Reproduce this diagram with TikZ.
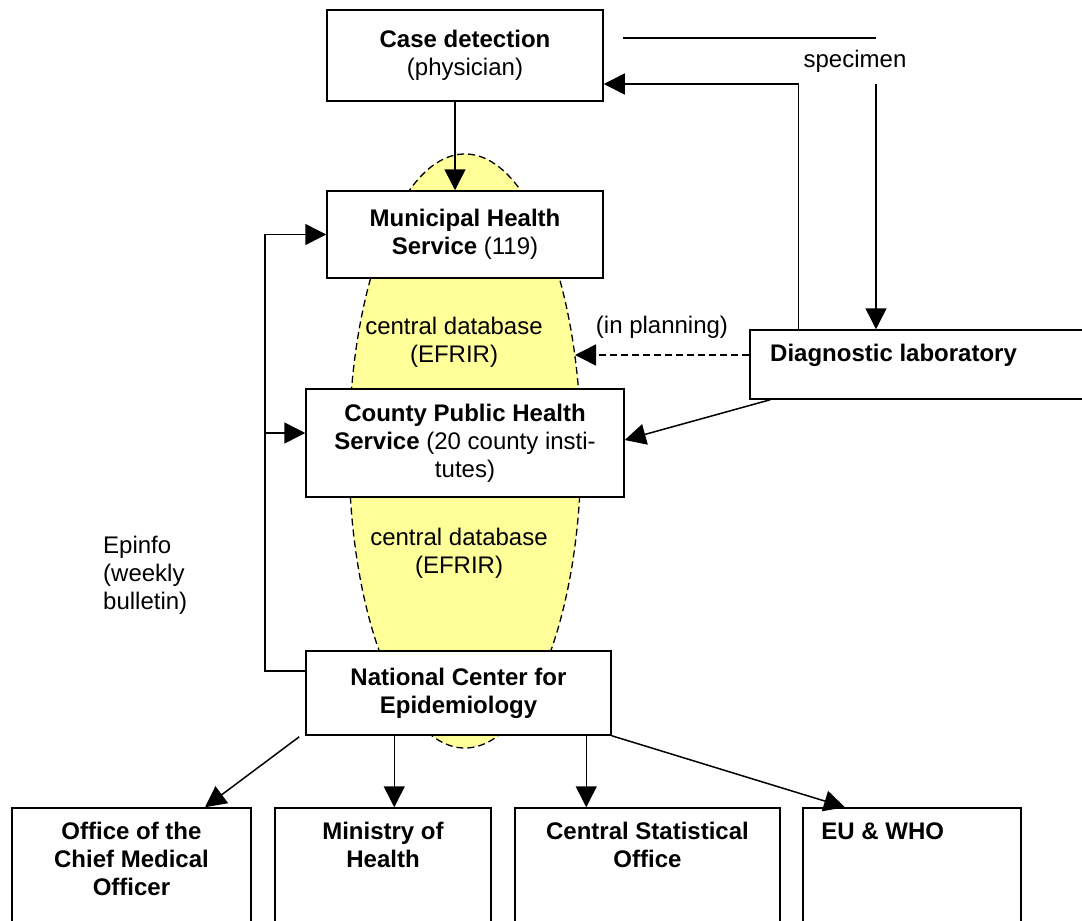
\documentclass[tikz,border=0pt]{standalone}
\usepackage{fontspec}
\setmainfont{Liberation Sans}
\usetikzlibrary{arrows.meta,calc}
\definecolor{dbyellow}{RGB}{255,255,153}
\begin{document}
\begin{tikzpicture}[x=1pt,y=-1pt,
  every node/.style={font=\fontsize{24pt}{28pt}\selectfont},
  box/.style={draw, line width=1.5pt, fill=white, inner sep=0pt, align=center},
  lbl/.style={inner sep=0pt, align=center},
  arr/.style={line width=1.5pt, -{Triangle[length=21pt,width=21pt]}},
  plain/.style={line width=1.5pt}]
\useasboundingbox (0,0) rectangle (1082,921);
% central database ellipse
\fill[dbyellow] (465,451) ellipse [x radius=116pt, y radius=297pt];
\draw[line width=1.3pt, dash pattern=on 7pt off 4pt] (465,451) ellipse [x radius=116pt, y radius=297pt];
\node[lbl] (db1) at (454,342) {central database\\(EFRIR)};
\node[lbl] (db2) at (459,553) {central database\\(EFRIR)};
% main boxes
\node[box, minimum width=276pt, minimum height=91pt] (case) at (465,55.5) {\textbf{Case detection}\\(physician)};
\node[box, minimum width=276pt, minimum height=87pt] (mun) at (465,234.5) {\textbf{Municipal Health}\\\textbf{Service} (119)};
\node[box, minimum width=318pt, minimum height=108pt] (cty) at (465,443) {\textbf{County Public Health}\\\textbf{Service} (20 county insti-\\tutes)};
\node[box, minimum width=305pt, minimum height=84pt] (nat) at (458.5,693) {\textbf{National Center for}\\\textbf{Epidemiology}};
\node[box, minimum width=350pt, minimum height=69pt] (lab) at (925,364.5) {};
\node[lbl, anchor=west] (labt) at (770,355) {\textbf{Diagnostic laboratory}};
% bottom boxes
\node[box, minimum width=239pt, minimum height=132pt] (oc) at (131.5,874) {};
\node[box, minimum width=216pt, minimum height=132pt] (min) at (383,874) {};
\node[box, minimum width=265pt, minimum height=132pt] (cso) at (647.5,874) {};
\node[box, minimum width=218pt, minimum height=132pt] (eu) at (912,874) {};
\node[lbl, anchor=north] (oct) at ([yshift=-15pt]oc.north) {\textbf{Office of the}\\\textbf{Chief Medical}\\\textbf{Officer}};
\node[lbl, anchor=north] (mint) at ([yshift=-15pt]min.north) {\textbf{Ministry of}\\\textbf{Health}};
\node[lbl, anchor=north] (csot) at ([yshift=-15pt]cso.north) {\textbf{Central Statistical}\\\textbf{Office}};
\node[lbl, anchor=north west] (eut) at ([xshift=19pt,yshift=-15pt]eu.north west) {\textbf{EU \& WHO}};
% labels
\node[lbl] (spec) at (855,61) {specimen};
\node[lbl] (plan) at (662,327) {(in planning)};
\node[lbl, anchor=west, align=left] (epi) at (103,575) {Epinfo\\(weekly\\bulletin)};
% connectors
\draw[arr] ([xshift=-10pt]case.south) -- ([xshift=-10pt]mun.north);
\coordinate (lx) at (265,0);
\draw[arr] ([yshift=22pt]nat.west) -| (lx |- mun.west) -- (mun.west);
\coordinate (cw) at ([yshift=10pt]cty.west);
\draw[arr] (lx |- cw) -- (cw);
\draw[arr] ([xshift=49pt]lab.north west) |- ([yshift=-28.5pt]case.east);
\coordinate (s1) at (623,38);
\coordinate (s2) at (876,38);
\draw[plain] (s1) -- (s2);
\coordinate (s3) at (876,84);
\draw[arr] (s3) -- (s3 |- lab.north);
\coordinate (ebd) at (575,355);
\draw[arr, dash pattern=on 7pt off 4pt] ([yshift=9.5pt]lab.west) -- (ebd);
\draw[arr] ([xshift=21pt]lab.south west) -- ([yshift=3pt]cty.east);
\draw[arr] ([xshift=-6pt,yshift=-1pt]nat.south west) -- ([xshift=73.5pt]oc.north);
\coordinate (m1) at ([xshift=89pt]nat.south west);
\draw[arr] (m1) -- (m1 |- min.north);
\coordinate (c1) at ([xshift=281pt]nat.south west);
\draw[arr] (c1) -- (c1 |- cso.north);
\draw[arr] (nat.south east) -- ([xshift=-67pt]eu.north);
\end{tikzpicture}
\end{document}
